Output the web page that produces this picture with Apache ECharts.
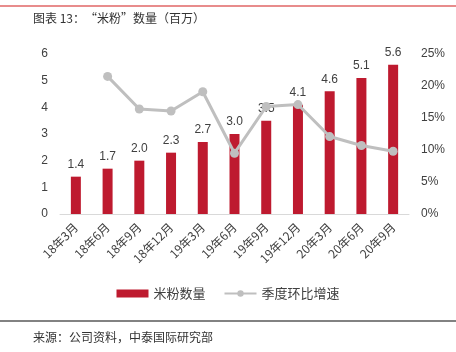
<!DOCTYPE html>
<html>
<head>
<meta charset="utf-8">
<script src="https://cdn.jsdelivr.net/npm/echarts@6/dist/echarts.min.js"></script>
<style>
  html, body { margin: 0; padding: 0; background: #fff; }
  #chart { width: 456px; height: 352px; }
</style>
</head>
<body>
<div id="chart"></div>
<script>
  var categories = ['18年3月', '18年6月', '18年9月', '18年12月', '19年3月', '19年6月', '19年9月', '19年12月', '20年3月', '20年6月', '20年9月'];
  var fanCount = [1.4, 1.7, 2.0, 2.3, 2.7, 3.0, 3.5, 4.1, 4.6, 5.1, 5.6];
  var qoqGrowth = [null, 21.5, 16.4, 16.1, 19.1, 9.5, 16.8, 17.1, 12.1, 10.7, 9.8];

  var cjk = '"Noto Sans CJK SC", "Liberation Sans", sans-serif';

  var myChart = echarts.init(document.getElementById('chart'));
  var option = {
    animation: false,
    textStyle: { fontFamily: cjk },
    title: [
      { text: '图表 13：“米粉”数量（百万）', left: 28, top: 7,
        textStyle: { fontSize: 12, fontWeight: 'normal', color: '#333', fontFamily: cjk } },
      { text: '来源：公司资料，中泰国际研究部', left: 28, top: 326,
        textStyle: { fontSize: 12, fontWeight: 'normal', color: '#333', fontFamily: cjk } }
    ],
    graphic: [
      { type: 'line', shape: { x1: 0, y1: 6, x2: 456, y2: 6 }, style: { stroke: '#E06666', lineWidth: 1.5 } },
      { type: 'line', shape: { x1: 0, y1: 321, x2: 456, y2: 321 }, style: { stroke: '#595959', lineWidth: 1.5 } }
    ],
    legend: {
      bottom: 47,
      left: 'center',
      itemGap: 18,
      textStyle: { fontSize: 13, color: '#404040' },
      data: [
        { name: '米粉数量', icon: 'rect', itemWidth: 30, itemHeight: 7 },
        { name: '季度环比增速' }
      ],
      itemWidth: 32,
      itemHeight: 8
    },
    grid: { left: 60, right: 47, top: 54, bottom: 138 },
    xAxis: {
      type: 'category',
      data: categories,
      axisLine: { lineStyle: { color: '#D9D9D9', width: 1 } },
      axisTick: { show: false },
      axisLabel: { rotate: 45, fontSize: 12, color: '#404040', margin: 11, interval: 0 }
    },
    yAxis: [
      {
        type: 'value', min: 0, max: 6, interval: 1,
        splitLine: { show: false },
        axisLine: { show: false }, axisTick: { show: false },
        axisLabel: { fontSize: 12, color: '#404040', margin: 12, fontFamily: 'Liberation Sans' }
      },
      {
        type: 'value', min: 0, max: 25, interval: 5,
        splitLine: { show: false },
        axisLine: { show: false }, axisTick: { show: false },
        axisLabel: { fontSize: 12, color: '#404040', margin: 12, formatter: '{value}%', fontFamily: 'Liberation Sans' }
      }
    ],
    series: [
      {
        name: '米粉数量',
        type: 'bar',
        data: fanCount,
        barWidth: 10,
        itemStyle: { color: '#BE1A2F' },
        label: { show: true, position: 'top', fontSize: 12, color: '#404040', distance: 6,
          formatter: function (p) { return p.value.toFixed(1); }, fontFamily: 'Liberation Sans' }
      },
      {
        name: '季度环比增速',
        type: 'line',
        yAxisIndex: 1,
        data: qoqGrowth,
        symbol: 'circle',
        symbolSize: 9,
        lineStyle: { color: '#BFBFBF', width: 3 },
        itemStyle: { color: '#BFBFBF' }
      }
    ]
  };
  myChart.setOption(option);
</script>
</body>
</html>
